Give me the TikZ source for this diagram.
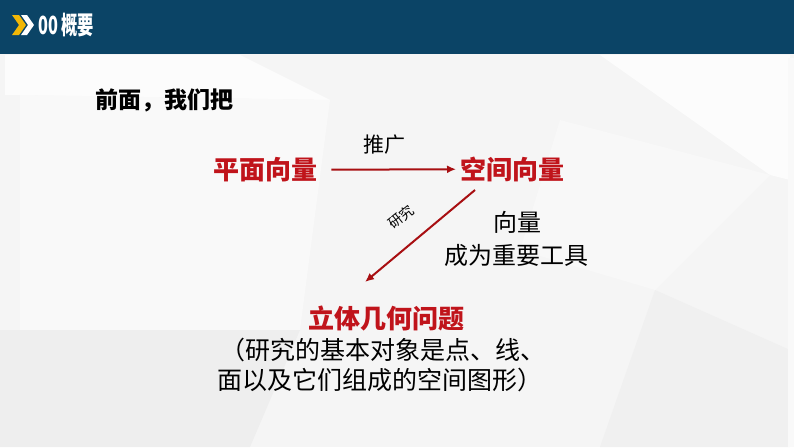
\documentclass[tikz,border=0pt]{standalone}
\usepackage{fontspec}
\setmainfont{Liberation Sans}
\newfontfamily\cjk{Noto Sans CJK SC}
\usetikzlibrary{positioning,arrows.meta}
\definecolor{barblue}{HTML}{0B4466}
\definecolor{deepred}{HTML}{C0141B}
\definecolor{arrowred}{HTML}{A80F12}
\definecolor{chevyellow}{HTML}{F2B705}
\definecolor{paper}{HTML}{F5F5F5}

\begin{document}
\begin{tikzpicture}[x=1pt,y=-1pt,
    title/.style={font=\cjk\bfseries\fontsize{26}{30}\selectfont, text=deepred, inner sep=0pt},
    note/.style={font=\cjk\fontsize{24}{30}\selectfont, inner sep=0pt},
    flow/.style={-{Latex[length=9pt,width=8pt]}, line width=2pt, draw=arrowred}]
    % background and facets
    \fill[paper] (0,0) rectangle (794,447);
    \fill[white!70!paper] (5,55) -- (240,55) -- (330,100) -- (5,95) -- cycle;
    \fill[white!40!paper] (20,95) -- (330,100) -- (300,330) -- (20,330) -- cycle;
    \fill[white!70!paper] (600,55) -- (790,55) -- (790,180) -- (770,175) -- cycle;
    \fill[white!30!paper] (560,120) -- (770,175) -- (655,290) -- (520,250) -- cycle;
    \fill[black!3!paper] (0,330) -- (300,330) -- (250,447) -- (0,447) -- cycle;
    \fill[black!2!paper] (655,290) -- (790,350) -- (790,447) -- (600,447) -- cycle;
    \fill[white!40!paper] (788,58) rectangle (794,447);
    % header bar
    \fill[barblue] (0,0) rectangle (794,54);
    \fill[chevyellow] (12,15) -- (19,15) -- (26,25) -- (19,35) -- (12,35) -- (19,25) -- cycle;
    \fill[white] (21,15) -- (27,15) -- (34,25) -- (27,35) -- (21,35) -- (28,25) -- cycle;
    \node[anchor=west, inner sep=0pt, xscale=0.65, text=white, font=\cjk\bfseries\fontsize{25}{28}\selectfont] (head) at (38,25) {00 概要};
    \node[anchor=west, inner sep=0pt, font=\cjk\bfseries\fontsize{23}{28}\selectfont] (intro) at (95,100) {前面，我们把};
    % diagram
    \node[title, anchor=west] (plane) at (213,170) {平面向量};
    \node[title, anchor=west] (space) at (460,169) {空间向量};
    \draw[flow, shorten <=14pt, shorten >=4pt] (plane) -- (space);
    \node[note, font=\cjk\fontsize{21}{24}\selectfont] (push) at (384,145) {推广};
    \coordinate (dstart) at (475,190);
    \coordinate (dend) at (365,282);
    \draw[flow] (dstart) -- (dend);
    \node[note, font=\cjk\fontsize{14}{16}\selectfont, rotate=39] (study) at (401,217) {研究};
    \node[note] (tool1) at (517,222) {向量};
    \node[note] (tool2) at (516,255) {成为重要工具};
    \node[title] (solid) at (386,318) {立体几何问题};
    \node[note, font=\cjk\fontsize{25}{30}\selectfont] (desc1) at (383,350) {（研究的基本对象是点、线、};
    \node[note, font=\cjk\fontsize{25}{30}\selectfont] (desc2) at (380,380) {面以及它们组成的空间图形）};
\end{tikzpicture}
\end{document}
